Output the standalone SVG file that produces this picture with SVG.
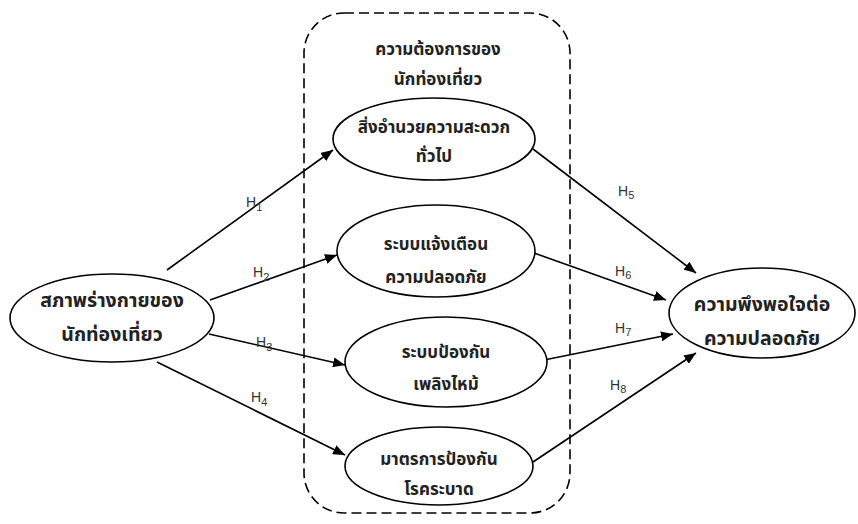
<svg xmlns="http://www.w3.org/2000/svg" width="858" height="524" viewBox="0 0 858 524">
<defs>
<marker id="arr" viewBox="0 0 12 10" refX="12" refY="5" markerWidth="12" markerHeight="10" markerUnits="userSpaceOnUse" orient="auto">
<path d="M0,0 L12,5 L0,10 Z" fill="#000"/>
</marker>
<style>
.node{fill:#fff;stroke:#000;stroke-width:1.6}
.t{font-family:"Noto Sans Thai","Tahoma","DejaVu Sans",sans-serif;font-size:19.5px;font-weight:bold;fill:#222;text-anchor:middle}
.ts{font-family:"Noto Sans Thai","Tahoma","DejaVu Sans",sans-serif;font-size:17px;font-weight:bold;fill:#222;text-anchor:middle}
.h{font-family:"Liberation Sans",Arial,sans-serif;font-size:14px;fill:#333}
.sub{font-size:11px}
.c{stroke:#000;stroke-width:1.6;fill:none;marker-end:url(#arr)}
.box{fill:none;stroke:#000;stroke-width:1.6;stroke-dasharray:10 5}
</style>
</defs>
<rect class="box" x="304" y="13" width="266" height="500" rx="40" ry="40"/>
<g id="group-title">
<text class="ts" x="438" y="55">ความต้องการของ</text>
<text class="ts" x="438" y="85">นักท่องเที่ยว</text>
</g>
<g id="connectors">
<line class="c" x1="167" y1="270" x2="333" y2="150"/>
<line class="c" x1="210" y1="300" x2="337" y2="255"/>
<line class="c" x1="209" y1="334" x2="345" y2="365"/>
<line class="c" x1="157" y1="362" x2="345" y2="455"/>
<line class="c" x1="533" y1="149" x2="696" y2="273"/>
<line class="c" x1="534" y1="253" x2="666" y2="300"/>
<line class="c" x1="544" y1="360" x2="673" y2="334"/>
<line class="c" x1="533" y1="462" x2="696" y2="353"/>
<text class="h" x="246" y="207">H<tspan class="sub" dy="4">1</tspan></text>
<text class="h" x="253" y="277">H<tspan class="sub" dy="4">2</tspan></text>
<text class="h" x="256" y="347">H<tspan class="sub" dy="4">3</tspan></text>
<text class="h" x="251" y="402">H<tspan class="sub" dy="4">4</tspan></text>
<text class="h" x="618" y="196">H<tspan class="sub" dy="3">5</tspan></text>
<text class="h" x="615" y="276">H<tspan class="sub" dy="3">6</tspan></text>
<text class="h" x="615" y="333">H<tspan class="sub" dy="3">7</tspan></text>
<text class="h" x="610" y="390">H<tspan class="sub" dy="3">8</tspan></text>
</g>
<g id="n-physical">
<ellipse class="node" cx="112" cy="318" rx="102" ry="44"/>
<text class="t" x="112" y="307">สภาพร่างกายของ</text>
<text class="t" x="112" y="341">นักท่องเที่ยว</text>
</g>
<g id="n-facility">
<ellipse class="node" cx="434" cy="139" rx="101" ry="41"/>
<text class="ts" x="434" y="133">สิ่งอำนวยความสะดวก</text>
<text class="ts" x="434" y="162">ทั่วไป</text>
</g>
<g id="n-warning">
<ellipse class="node" cx="436" cy="251" rx="99" ry="46"/>
<text class="ts" x="436" y="250">ระบบแจ้งเตือน</text>
<text class="ts" x="436" y="283">ความปลอดภัย</text>
</g>
<g id="n-fire">
<ellipse class="node" cx="446" cy="362" rx="101" ry="45"/>
<text class="ts" x="446" y="358">ระบบป้องกัน</text>
<text class="ts" x="446" y="390">เพลิงไหม้</text>
</g>
<g id="n-epidemic">
<ellipse class="node" cx="439" cy="466" rx="94" ry="39"/>
<text class="ts" x="439" y="465">มาตรการป้องกัน</text>
<text class="ts" x="439" y="495">โรคระบาด</text>
</g>
<g id="n-satisfaction">
<ellipse class="node" cx="762" cy="313" rx="93" ry="45"/>
<text class="t" x="762" y="311">ความพึงพอใจต่อ</text>
<text class="t" x="762" y="345">ความปลอดภัย</text>
</g>
</svg>
